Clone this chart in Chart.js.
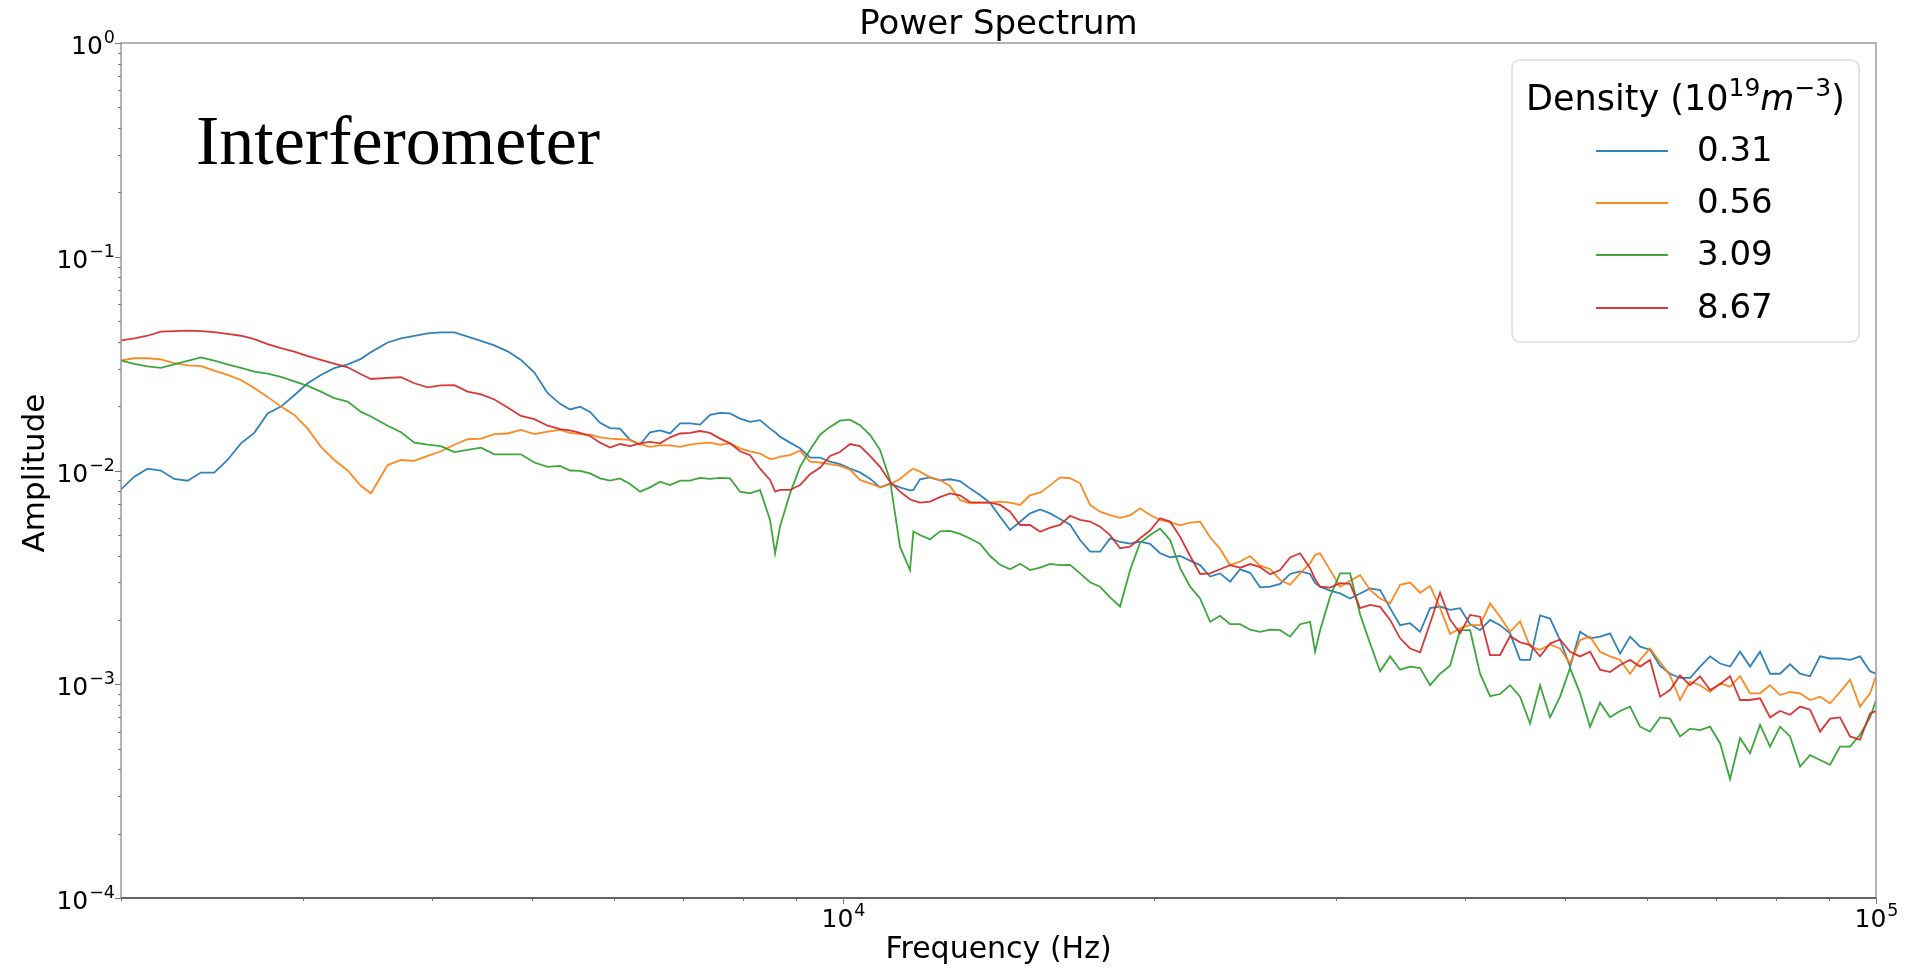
<!DOCTYPE html>
<html>
<head>
<meta charset="utf-8">
<title>Power Spectrum</title>
<script src="https://cdn.jsdelivr.net/npm/chart.js@4.4.1/dist/chart.umd.min.js"></script>
<style>
  html, body { margin: 0; padding: 0; background: #fff; }
  canvas { display: block; }
</style>
</head>
<body>
<canvas id="myChart" width="1916" height="970"></canvas>
<script>
// frequency bins (Hz), shared by the four traces
const freqHz = [
  2000, 2060, 2122, 2186, 2252, 2320, 2390, 2462, 2536, 2613, 2692, 2773, 2857, 2943, 3032, 3123,
  3217, 3315, 3415, 3492, 3624, 3733, 3846, 3962, 4081, 4205, 4331, 4462, 4597, 4735, 4878, 5026, 5177,
  5322, 5442, 5565, 5690, 5818, 5949, 6083, 6221, 6361, 6504, 6651, 6801, 6954, 7111, 7271, 7435,
  7603, 7774, 7949, 8128, 8311, 8499, 8595, 8690, 8886, 9086, 9291, 9500, 9714, 9933, 10157, 10386,
  10620, 10859, 11104, 11354, 11610, 11698, 11871, 12139, 12412, 12692, 12978, 13270, 13569, 13875,
  14192, 14512, 14839, 15174, 15516, 15866, 16223, 16589, 16963, 17345, 17736, 18136, 18545, 18963,
  19390, 19827, 20274, 20731, 21199, 21677, 22165, 22665, 23176, 23698, 24233, 24779, 25338, 25909,
  26493, 27090, 27701, 28325, 28641, 28964, 29617, 30285, 30967, 31666, 32379, 33109, 33856, 34619,
  35399, 36197, 37013,
  37844, 38697, 39569, 40461, 41373, 42306, 43259, 44234, 45231, 46251, 47293, 48359, 49449, 50564,
  51703, 52869, 54060, 55279, 56525, 57799, 59102, 60434, 61796, 63189, 64613, 66069, 67559, 69081,
  70638, 72231, 73859, 75523, 77225, 78966, 80746, 82566, 84427, 86330, 88275, 90265, 92300, 94380,
  96507, 98682, 100000
];

// amplitude for n = 0.31
const amp031 = [
  8.16e-3, 9.36e-3, 1.02e-2, 1.00e-2, 9.13e-3, 8.96e-3, 9.78e-3, 9.78e-3, 1.12e-2, 1.34e-2, 1.50e-2,
  1.85e-2, 1.99e-2, 2.25e-2, 2.56e-2, 2.80e-2, 3.01e-2, 3.14e-2, 3.33e-2, 3.58e-2, 3.97e-2, 4.15e-2,
  4.26e-2, 4.38e-2, 4.43e-2, 4.43e-2, 4.23e-2, 4.04e-2, 3.85e-2, 3.61e-2, 3.29e-2, 2.87e-2, 2.30e-2,
  2.05e-2, 1.93e-2, 1.99e-2, 1.88e-2, 1.67e-2, 1.58e-2, 1.57e-2, 1.39e-2, 1.32e-2, 1.51e-2, 1.54e-2,
  1.49e-2, 1.66e-2, 1.66e-2, 1.64e-2, 1.82e-2, 1.86e-2, 1.85e-2, 1.75e-2, 1.69e-2, 1.72e-2, 1.57e-2,
  1.51e-2, 1.44e-2, 1.35e-2, 1.27e-2, 1.15e-2, 1.15e-2, 1.10e-2, 1.07e-2, 1.02e-2, 9.8e-3, 9.16e-3,
  8.34e-3, 8.68e-3, 8.34e-3, 8.08e-3, 8.11e-3, 9.10e-3, 9.29e-3, 9.0e-3, 9.1e-3, 8.93e-3, 8.25e-3,
  7.68e-3, 7.07e-3,
  6.08e-3, 5.27e-3, 5.76e-3, 6.30e-3, 6.58e-3, 6.30e-3, 5.93e-3, 5.58e-3, 4.73e-3, 4.17e-3, 4.17e-3,
  4.81e-3, 4.63e-3, 4.55e-3, 4.65e-3, 4.54e-3, 4.10e-3, 3.92e-3, 3.98e-3, 3.79e-3, 3.61e-3, 3.19e-3,
  3.30e-3, 3.02e-3, 3.45e-3, 3.32e-3, 2.84e-3, 2.86e-3, 2.95e-3, 3.28e-3, 3.37e-3, 3.28e-3, 2.97e-3,
  2.86e-3, 2.74e-3, 2.66e-3, 2.52e-3, 2.66e-3, 2.81e-3, 2.76e-3, 2.27e-3, 1.89e-3, 1.93e-3, 1.76e-3,
  2.27e-3,
  2.31e-3, 2.23e-3, 2.27e-3, 1.91e-3, 1.79e-3, 2.00e-3, 1.89e-3, 1.73e-3, 1.30e-3, 1.30e-3, 2.10e-3,
  2.03e-3, 1.61e-3, 1.21e-3, 1.76e-3, 1.64e-3, 1.67e-3, 1.73e-3, 1.39e-3, 1.67e-3, 1.50e-3, 1.45e-3,
  1.22e-3, 1.12e-3, 1.07e-3, 1.07e-3, 1.21e-3, 1.35e-3, 1.25e-3, 1.21e-3, 1.42e-3, 1.21e-3, 1.42e-3,
  1.12e-3, 1.12e-3, 1.24e-3, 1.12e-3, 1.09e-3, 1.35e-3, 1.32e-3, 1.32e-3, 1.30e-3, 1.35e-3, 1.15e-3,
  1.12e-3
];

// amplitude for n = 0.56
const amp056 = [
  3.27e-2, 3.35e-2, 3.35e-2, 3.31e-2, 3.18e-2, 3.10e-2, 3.08e-2, 2.93e-2, 2.80e-2, 2.65e-2, 2.43e-2,
  2.21e-2, 1.99e-2, 1.82e-2, 1.57e-2, 1.29e-2, 1.12e-2, 1.00e-2, 8.46e-3, 7.82e-3, 1.06e-2, 1.12e-2,
  1.11e-2, 1.17e-2, 1.23e-2, 1.32e-2, 1.40e-2, 1.41e-2, 1.48e-2, 1.49e-2, 1.55e-2, 1.48e-2, 1.52e-2,
  1.55e-2, 1.50e-2, 1.48e-2, 1.47e-2, 1.43e-2, 1.41e-2, 1.40e-2, 1.39e-2, 1.33e-2, 1.29e-2, 1.31e-2,
  1.31e-2, 1.29e-2, 1.32e-2, 1.34e-2, 1.35e-2, 1.32e-2, 1.34e-2, 1.27e-2, 1.23e-2, 1.20e-2, 1.13e-2,
  1.14e-2, 1.16e-2, 1.18e-2, 1.24e-2, 1.10e-2, 1.09e-2, 1.07e-2, 1.05e-2, 1.01e-2, 9.03e-3, 8.71e-3,
  8.34e-3, 8.62e-3, 9.13e-3, 9.98e-3, 1.02e-2, 9.88e-3, 9.29e-3, 9.03e-3, 8.46e-3, 7.28e-3, 7.02e-3,
  7.07e-3, 7.07e-3,
  7.15e-3, 7.07e-3, 6.90e-3, 7.68e-3, 7.88e-3, 8.52e-3, 9.29e-3, 9.20e-3, 8.71e-3, 6.90e-3, 6.42e-3,
  6.19e-3, 6.00e-3, 6.17e-3, 6.65e-3, 6.19e-3, 5.87e-3, 5.74e-3, 5.54e-3, 5.70e-3, 5.76e-3, 4.87e-3,
  4.30e-3, 3.61e-3, 3.75e-3, 3.98e-3, 3.59e-3, 3.46e-3, 3.07e-3, 2.92e-3, 3.30e-3, 3.68e-3, 4.02e-3,
  4.10e-3, 3.42e-3, 2.86e-3, 3.05e-3, 3.24e-3, 2.76e-3, 2.52e-3, 2.39e-3, 2.92e-3, 2.99e-3, 2.68e-3,
  2.88e-3,
  2.27e-3, 1.72e-3, 1.83e-3, 1.89e-3, 1.89e-3, 2.39e-3, 2.07e-3, 1.76e-3, 1.97e-3, 1.50e-3, 1.45e-3,
  1.53e-3, 1.47e-3, 1.25e-3, 1.61e-3, 1.67e-3, 1.42e-3, 1.35e-3, 1.30e-3, 1.12e-3, 1.30e-3, 1.47e-3,
  1.27e-3, 1.10e-3, 8.44e-4, 1.03e-3, 9.9e-4, 9.2e-4, 1.01e-3, 9.74e-4, 1.09e-3, 9.07e-4, 9.07e-4,
  9.9e-4, 8.9e-4, 9.2e-4, 9.07e-4, 8.44e-4, 8.75e-4, 8.15e-4, 9.2e-4, 1.05e-3, 7.86e-4, 9.07e-4,
  1.09e-3
];

// amplitude for n = 3.09
const amp309 = [
  3.27e-2, 3.15e-2, 3.07e-2, 3.02e-2, 3.14e-2, 3.26e-2, 3.38e-2, 3.27e-2, 3.14e-2, 3.02e-2, 2.90e-2,
  2.84e-2, 2.74e-2, 2.61e-2, 2.49e-2, 2.34e-2, 2.18e-2, 2.10e-2, 1.88e-2, 1.79e-2, 1.62e-2, 1.51e-2,
  1.35e-2, 1.32e-2, 1.30e-2, 1.22e-2, 1.25e-2, 1.28e-2, 1.19e-2, 1.19e-2, 1.19e-2, 1.09e-2, 1.04e-2,
  1.05e-2, 1.00e-2, 9.95e-3, 9.70e-3, 9.19e-3, 8.97e-3, 9.19e-3, 8.65e-3, 7.96e-3, 8.34e-3, 8.87e-3,
  8.55e-3, 8.97e-3, 8.97e-3, 9.23e-3, 9.13e-3, 9.23e-3, 9.19e-3, 7.96e-3, 7.82e-3, 8.11e-3, 5.87e-3,
  4.10e-3, 5.47e-3, 7.82e-3, 1.04e-2, 1.25e-2, 1.47e-2, 1.60e-2, 1.71e-2, 1.73e-2, 1.63e-2, 1.47e-2,
  1.25e-2, 9.03e-3, 4.40e-3, 3.42e-3, 5.19e-3, 4.99e-3, 4.76e-3, 5.19e-3, 5.22e-3, 5.05e-3, 4.81e-3,
  4.55e-3, 3.99e-3,
  3.62e-3, 3.45e-3, 3.66e-3, 3.42e-3, 3.51e-3, 3.66e-3, 3.61e-3, 3.62e-3, 3.30e-3, 3.00e-3, 2.86e-3,
  2.55e-3, 2.31e-3, 3.42e-3, 4.59e-3, 4.99e-3, 5.35e-3, 4.73e-3, 3.49e-3, 2.86e-3, 2.52e-3, 1.96e-3,
  2.09e-3, 1.91e-3, 1.91e-3, 1.80e-3, 1.76e-3, 1.80e-3, 1.79e-3, 1.67e-3, 1.91e-3, 1.96e-3, 1.42e-3,
  1.79e-3, 2.57e-3, 3.30e-3, 3.30e-3, 2.12e-3, 1.55e-3, 1.15e-3, 1.35e-3, 1.17e-3, 1.21e-3, 1.19e-3,
  9.9e-4,
  1.12e-3, 1.22e-3, 1.79e-3, 1.79e-3, 1.12e-3, 8.8e-4, 9.0e-4, 9.9e-4, 8.75e-4, 6.55e-4, 9.9e-4,
  7.0e-4, 8.75e-4, 1.19e-3, 9.07e-4, 6.33e-4, 8.2e-4, 7.0e-4, 7.5e-4, 7.86e-4, 6.33e-4, 6.0e-4,
  7.0e-4, 6.9e-4, 5.7e-4, 6.2e-4, 6.1e-4, 6.33e-4, 5.3e-4, 3.6e-4, 5.6e-4, 4.75e-4, 6.45e-4,
  5.11e-4, 6.33e-4, 5.7e-4, 4.12e-4, 4.66e-4, 4.42e-4, 4.2e-4, 5.11e-4, 5.11e-4, 5.8e-4, 7.0e-4,
  8.4e-4
];

// amplitude for n = 8.67
const amp867 = [
  4.06e-2, 4.15e-2, 4.27e-2, 4.46e-2, 4.49e-2, 4.51e-2, 4.49e-2, 4.44e-2, 4.36e-2, 4.27e-2, 4.12e-2,
  3.90e-2, 3.74e-2, 3.60e-2, 3.43e-2, 3.29e-2, 3.16e-2, 3.04e-2, 2.82e-2, 2.68e-2, 2.71e-2, 2.73e-2,
  2.56e-2, 2.45e-2, 2.50e-2, 2.51e-2, 2.34e-2, 2.27e-2, 2.15e-2, 1.97e-2, 1.80e-2, 1.74e-2, 1.62e-2,
  1.56e-2, 1.54e-2, 1.50e-2, 1.45e-2, 1.35e-2, 1.28e-2, 1.33e-2, 1.30e-2, 1.34e-2, 1.36e-2, 1.34e-2,
  1.43e-2, 1.49e-2, 1.50e-2, 1.53e-2, 1.50e-2, 1.41e-2, 1.34e-2, 1.23e-2, 1.18e-2, 1.02e-2, 9.03e-3,
  7.96e-3, 8.11e-3, 8.11e-3, 8.55e-3, 9.6e-3, 1.03e-2, 1.17e-2, 1.22e-2, 1.33e-2, 1.30e-2, 1.17e-2,
  1.04e-2, 8.87e-3, 7.96e-3, 7.34e-3, 7.23e-3, 7.07e-3, 7.15e-3, 7.50e-3, 7.82e-3, 7.66e-3, 7.12e-3,
  7.07e-3, 7.07e-3,
  6.90e-3, 6.42e-3, 5.56e-3, 5.56e-3, 5.17e-3, 5.40e-3, 5.56e-3, 6.14e-3, 5.87e-3, 5.77e-3, 5.46e-3,
  4.99e-3, 4.33e-3, 4.40e-3, 4.82e-3, 5.24e-3, 5.98e-3, 5.77e-3, 4.90e-3, 3.98e-3, 3.28e-3, 3.30e-3,
  3.45e-3, 3.61e-3, 3.51e-3, 3.65e-3, 3.53e-3, 3.27e-3, 3.42e-3, 3.92e-3, 4.10e-3, 3.49e-3, 3.10e-3,
  2.86e-3, 2.83e-3, 2.97e-3, 2.95e-3, 2.27e-3, 2.35e-3, 2.30e-3, 2.00e-3, 1.64e-3, 1.47e-3, 1.41e-3,
  1.93e-3,
  2.68e-3, 2.01e-3, 1.73e-3, 2.11e-3, 2.07e-3, 1.37e-3, 1.37e-3, 1.68e-3, 1.57e-3, 1.53e-3, 1.35e-3,
  1.55e-3, 1.62e-3, 1.42e-3, 1.35e-3, 1.42e-3, 1.17e-3, 1.14e-3, 1.23e-3, 1.30e-3, 1.21e-3, 1.30e-3,
  8.75e-4, 9.4e-4, 1.10e-3, 9.9e-4, 1.09e-3, 9.4e-4, 1.00e-3, 1.09e-3, 8.44e-4, 8.44e-4, 8.6e-4,
  7.0e-4, 7.5e-4, 7.2e-4, 7.86e-4, 7.6e-4, 6.0e-4, 6.9e-4, 7.0e-4, 5.7e-4, 5.5e-4, 7.31e-4,
  7.5e-4
];

const densities = ["0.31", "0.56", "3.09", "8.67"];
const lineColors = ["rgba(31,119,180,0.92)", "rgba(255,127,14,0.92)", "rgba(44,160,44,0.92)", "rgba(214,39,40,0.92)"];

// decade ticks and their exponent labels (drawn as 10 with a raised exponent)
const xTickValues = [1e4, 1e5];
const xTickExps = ["4", "5"];
const yTickValues = [1e-4, 1e-3, 1e-2, 1e-1, 1];
const yTickExps = ["\u22124", "\u22123", "\u22122", "\u22121", "0"];

function toPoints(amps) {
  return freqHz.map(function(f, i) {
    return { x: f, y: amps[i] };
  });
}

// "10" plus superscript, returns full width; align is "right" or "center"
function drawPower(ctx, exp, x, y, align) {
  var base = '25px "DejaVu Sans"';
  var sup = '17.5px "DejaVu Sans"';
  ctx.font = base;
  var w1 = ctx.measureText("10").width;
  ctx.font = sup;
  var w2 = ctx.measureText(exp).width;
  var left = align === "right" ? x - w1 - w2 : x - (w1 + w2) / 2;
  ctx.textAlign = "left";
  ctx.textBaseline = "alphabetic";
  ctx.font = base;
  ctx.fillText("10", left, y);
  ctx.font = sup;
  ctx.fillText(exp, left + w1 + 1, y - 11);
}

// box, log ticks, labels, titles and the legend
var decorations = {
  id: "decorations",
  afterDraw: function(chart) {
    var ctx = chart.ctx;
    var area = chart.chartArea;
    var xs = chart.scales.x;
    var ys = chart.scales.y;
    ctx.save();

    ctx.lineWidth = 1.5;
    ctx.strokeStyle = "#9a9a9a";
    ctx.strokeRect(area.left, area.top, area.right - area.left, area.bottom - area.top);
    ctx.strokeStyle = "#4a4a4a";
    ctx.beginPath();
    ctx.moveTo(area.left, area.bottom);
    ctx.lineTo(area.right, area.bottom);
    ctx.stroke();

    ctx.lineWidth = 1;
    ctx.strokeStyle = "#777";
    for (var e = 3; e <= 5; e++) {
      for (var k = 1; k <= 9; k++) {
        var v = k * Math.pow(10, e);
        if (v < xs.min || v > xs.max) continue;
        var px = Math.round(xs.getPixelForValue(v)) + 0.5;
        ctx.beginPath();
        ctx.moveTo(px, area.bottom);
        ctx.lineTo(px, area.bottom + (k === 1 ? 6 : 3));
        ctx.stroke();
      }
    }
    for (var ey = -4; ey <= 0; ey++) {
      for (var ky = 1; ky <= 9; ky++) {
        var vy = ky * Math.pow(10, ey);
        if (vy < ys.min || vy > ys.max) continue;
        var py = Math.round(ys.getPixelForValue(vy)) + 0.5;
        ctx.beginPath();
        ctx.moveTo(area.left, py);
        ctx.lineTo(area.left - (ky === 1 ? 6 : 3), py);
        ctx.stroke();
      }
    }

    ctx.fillStyle = "#000";
    xTickValues.forEach(function(v, i) {
      drawPower(ctx, xTickExps[i], xs.getPixelForValue(v), 927, "center");
    });
    yTickValues.forEach(function(v, i) {
      drawPower(ctx, yTickExps[i], 114, ys.getPixelForValue(v) + 11, "right");
    });

    ctx.textAlign = "center";
    ctx.textBaseline = "alphabetic";
    ctx.font = '34px "DejaVu Sans"';
    ctx.fillText("Power Spectrum", (area.left + area.right) / 2, 34);
    ctx.font = '30px "DejaVu Sans"';
    ctx.fillText("Frequency (Hz)", (area.left + area.right) / 2, 958);
    ctx.save();
    ctx.translate(44, 473);
    ctx.rotate(-Math.PI / 2);
    ctx.font = '31px "DejaVu Sans"';
    ctx.fillText("Amplitude", 0, 0);
    ctx.restore();

    ctx.textAlign = "left";
    ctx.font = '70px "Liberation Serif"';
    ctx.fillText("Interferometer", 196, 164);

    // legend
    var lx = 1512, ly = 60, lw = 347, lh = 282;
    ctx.beginPath();
    ctx.roundRect(lx, ly, lw, lh, 8);
    ctx.fillStyle = "rgba(255,255,255,0.8)";
    ctx.fill();
    ctx.strokeStyle = "#dcdcdc";
    ctx.lineWidth = 1.5;
    ctx.stroke();

    var parts = [
      { t: "Density (10", f: '35px "DejaVu Sans"', dy: 0 },
      { t: "19", f: '25px "DejaVu Sans"', dy: -14 },
      { t: "m", f: 'italic 35px "DejaVu Sans"', dy: 0 },
      { t: "\u22123", f: '25px "DejaVu Sans"', dy: -14 },
      { t: ")", f: '35px "DejaVu Sans"', dy: 0 }
    ];
    var total = 0;
    parts.forEach(function(p) {
      ctx.font = p.f;
      p.w = ctx.measureText(p.t).width;
      total += p.w;
    });
    var tx = lx + lw / 2 - total / 2;
    ctx.fillStyle = "#000";
    parts.forEach(function(p) {
      ctx.font = p.f;
      ctx.fillText(p.t, tx, 110 + p.dy);
      tx += p.w;
    });

    var rowY = [151, 203, 255, 308];
    ctx.font = '34px "DejaVu Sans"';
    ctx.textBaseline = "middle";
    chart.data.datasets.forEach(function(ds, i) {
      ctx.strokeStyle = ds.borderColor;
      ctx.lineWidth = 2;
      ctx.beginPath();
      ctx.moveTo(1596, rowY[i]);
      ctx.lineTo(1668, rowY[i]);
      ctx.stroke();
      ctx.fillStyle = "#000";
      ctx.fillText(ds.label, 1697, rowY[i] + 1);
    });

    ctx.restore();
  }
};

var ctx = document.getElementById("myChart").getContext("2d");
var chart = new Chart(ctx, {
  type: "line",
  data: {
    datasets: [
      { label: densities[0], data: toPoints(amp031), borderColor: lineColors[0], order: 3 },
      { label: densities[1], data: toPoints(amp056), borderColor: lineColors[1], order: 2 },
      { label: densities[2], data: toPoints(amp309), borderColor: lineColors[2], order: 1 },
      { label: densities[3], data: toPoints(amp867), borderColor: lineColors[3], order: 0 }
    ]
  },
  options: {
    responsive: false,
    animation: false,
    events: [],
    layout: { padding: { top: 43, right: 40, left: 0, bottom: 0 } },
    elements: {
      point: { radius: 0 },
      line: { borderWidth: 1.8, tension: 0, fill: false }
    },
    plugins: {
      legend: { display: false },
      tooltip: { enabled: false },
      title: { display: false }
    },
    scales: {
      x: {
        type: "logarithmic",
        min: 2000,
        max: 100000,
        grid: { display: false },
        border: { display: false },
        ticks: { display: false },
        afterBuildTicks: function(axis) {
          axis.ticks = xTickValues.map(function(v) { return { value: v }; });
        },
        afterFit: function(axis) {
          axis.height = 72;
          axis.paddingLeft = 0;
          axis.paddingRight = 0;
        }
      },
      y: {
        type: "logarithmic",
        min: 1e-4,
        max: 1,
        grid: { display: false },
        border: { display: false },
        ticks: { display: false },
        afterBuildTicks: function(axis) {
          axis.ticks = yTickValues.map(function(v) { return { value: v }; });
        },
        afterFit: function(axis) {
          axis.width = 121;
          axis.paddingTop = 0;
          axis.paddingBottom = 0;
        }
      }
    }
  },
  plugins: [decorations]
});
</script>
</body>
</html>
